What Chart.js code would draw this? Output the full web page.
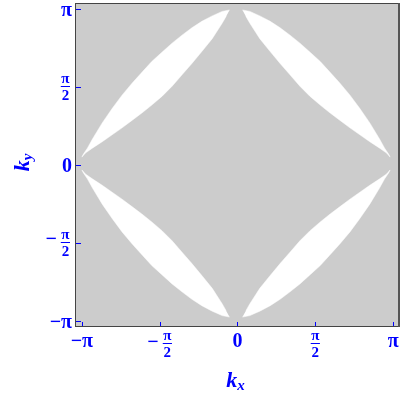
<!DOCTYPE html>
<html>
<head>
<meta charset="utf-8">
<script src="https://cdn.jsdelivr.net/npm/chart.js@4"></script>
<style>
  html, body { margin: 0; padding: 0; background: #ffffff; }
  #wrap { width: 409px; height: 401px; }
</style>
</head>
<body>
<div id="wrap"><canvas id="c" width="409" height="401"></canvas></div>
<script>
// ---- data (k in radians) ----
// lens outlines: outer edge from tip to tip, then inner edge back
const xRight  = [0.10,0.25,0.45,0.66,0.86,1.06,1.26,1.46,1.67,1.86,2.06,2.27,2.47,2.67,2.87,2.97,3.05,3.08,
                 3.01,2.87,2.67,2.47,2.27,2.07,1.87,1.67,1.46,1.26,1.06,0.86,0.66,0.45,0.25,0.17];
const xLeft   = [-0.16,-0.31,-0.51,-0.72,-0.92,-1.12,-1.32,-1.52,-1.73,-1.92,-2.12,-2.33,-2.53,-2.73,-2.93,-3.03,-3.11,-3.14,
                 -3.07,-2.93,-2.73,-2.53,-2.33,-2.13,-1.93,-1.73,-1.52,-1.32,-1.12,-0.92,-0.72,-0.51,-0.31,-0.23];
const yTop    = [3.13,3.10,3.01,2.90,2.77,2.62,2.46,2.28,2.09,1.88,1.66,1.41,1.14,0.85,0.52,0.34,0.22,0.16,
                 0.24,0.34,0.47,0.61,0.75,0.90,1.05,1.21,1.39,1.59,1.82,2.05,2.29,2.55,2.86,3.00];
const yBottom = [-3.07,-3.04,-2.95,-2.84,-2.71,-2.56,-2.40,-2.22,-2.03,-1.82,-1.60,-1.35,-1.08,-0.79,-0.46,-0.28,-0.16,-0.10,
                 -0.18,-0.28,-0.41,-0.55,-0.69,-0.84,-0.99,-1.15,-1.33,-1.53,-1.76,-1.99,-2.23,-2.49,-2.80,-2.94];

const tickValues = [-Math.PI, -Math.PI/2, 0, Math.PI/2, Math.PI];
const tickLabels = ['−π', '−π/2', '0', 'π/2', 'π'];
const xTitle = ['k', 'x'];
const yTitle = ['k', 'y'];

const BLUE = '#0000ff';
const GRAY = '#cccccc';
const SERIF = '"Liberation Serif", "Times New Roman", serif';

function pts(xs, ys) { return xs.map((x, i) => ({ x: x, y: ys[i] })); }
function lens(xs, ys) {
  return { data: pts(xs, ys), fill: 'shape', backgroundColor: '#ffffff',
           borderColor: '#ffffff', borderWidth: 0.5, pointRadius: 0, tension: 0 };
}

const bgPlugin = {
  id: 'bg',
  beforeDatasetsDraw(chart) {
    const { ctx, chartArea: a } = chart;
    ctx.save();
    ctx.fillStyle = GRAY;
    ctx.fillRect(a.left, a.top, a.right - a.left, a.bottom - a.top);
    ctx.restore();
  }
};

function drawLabel(ctx, s, axis, px, py) {
  const neg = s.startsWith('−');
  const body = neg ? s.slice(1) : s;
  const big = 'bold 20px ' + SERIF;
  const small = 'bold 15px ' + SERIF;
  ctx.fillStyle = BLUE;
  ctx.strokeStyle = BLUE;
  if (body.indexOf('/') < 0) {
    ctx.font = big;
    ctx.textBaseline = 'alphabetic';
    if (axis === 'x') { ctx.textAlign = 'center'; ctx.fillText(s, px, 347); }
    else { ctx.textAlign = 'right'; ctx.fillText(s, 72, py + 7); }
    return;
  }
  const [num, den] = body.split('/');
  ctx.font = small;
  const fw = Math.max(ctx.measureText(num).width, ctx.measureText(den).width) + 1;
  ctx.font = big;
  const mw = neg ? ctx.measureText('−').width : 0;
  const gap = neg ? 4 : 0;
  let fx, c, minusBase;
  if (axis === 'x') {
    const total = mw + gap + fw;
    const start = px - total / 2;
    fx = start + mw + gap + fw / 2;
    c = 344; minusBase = 348;
  } else {
    fx = 70 - fw / 2;
    c = py; minusBase = py + 2;
  }
  if (neg) {
    ctx.font = big; ctx.textAlign = 'right'; ctx.textBaseline = 'alphabetic';
    ctx.fillText('−', fx - fw / 2 - gap, minusBase);
  }
  ctx.font = small; ctx.textAlign = 'center'; ctx.textBaseline = 'alphabetic';
  ctx.fillText(num, fx, c - 4);
  ctx.fillText(den, fx, c + 13);
  ctx.lineWidth = 1;
  ctx.beginPath();
  ctx.moveTo(fx - fw / 2, Math.round(c - 1) + 0.5);
  ctx.lineTo(fx + fw / 2, Math.round(c - 1) + 0.5);
  ctx.stroke();
}

function drawTitle(ctx, parts) {
  const f1 = 'bold italic 22px ' + SERIF;
  const f2 = 'bold italic 15px ' + SERIF;
  ctx.font = f1; const w1 = ctx.measureText(parts[0]).width;
  ctx.font = f2; const w2 = ctx.measureText(parts[1]).width;
  const start = -(w1 + w2) / 2;
  ctx.textAlign = 'left'; ctx.textBaseline = 'alphabetic';
  ctx.fillStyle = BLUE;
  ctx.font = f1; ctx.fillText(parts[0], start, 0);
  ctx.font = f2; ctx.fillText(parts[1], start + w1, 3);
}

const framePlugin = {
  id: 'frame',
  afterDraw(chart) {
    const { ctx, chartArea: a, scales } = chart;
    ctx.save();
    // frame
    ctx.strokeStyle = '#444444';
    ctx.lineWidth = 1;
    ctx.beginPath();
    ctx.moveTo(a.left + 0.5, a.top + 0.5); ctx.lineTo(a.right, a.top + 0.5);
    ctx.moveTo(a.left + 0.5, a.top); ctx.lineTo(a.left + 0.5, a.bottom);
    ctx.moveTo(a.left, a.bottom - 0.5); ctx.lineTo(a.right, a.bottom - 0.5);
    ctx.stroke();
    ctx.strokeStyle = '#555555';
    ctx.lineWidth = 2;
    ctx.beginPath();
    ctx.moveTo(a.right, a.top); ctx.lineTo(a.right, a.bottom);
    ctx.stroke();
    // ticks (inward)
    ctx.strokeStyle = BLUE;
    ctx.lineWidth = 1;
    ctx.beginPath();
    tickValues.forEach(v => {
      const y = Math.round(scales.y.getPixelForValue(v)) + 0.5;
      ctx.moveTo(a.left + 1, y); ctx.lineTo(a.left + 6, y);
      const x = Math.round(scales.x.getPixelForValue(v)) + 0.5;
      ctx.moveTo(x, a.bottom - 1); ctx.lineTo(x, a.bottom - 5);
    });
    ctx.stroke();
    // tick labels
    tickValues.forEach((v, i) => {
      drawLabel(ctx, tickLabels[i], 'x', scales.x.getPixelForValue(v), 0);
      drawLabel(ctx, tickLabels[i], 'y', 0, scales.y.getPixelForValue(v));
    });
    // axis titles
    ctx.save();
    ctx.translate((a.left + a.right) / 2 - 1.5, 387);
    drawTitle(ctx, xTitle);
    ctx.restore();
    ctx.save();
    ctx.translate(28.5, (a.top + a.bottom) / 2 - 2.5);
    ctx.rotate(-Math.PI / 2);
    drawTitle(ctx, yTitle);
    ctx.restore();
    ctx.restore();
  }
};

new Chart(document.getElementById('c'), {
  type: 'line',
  data: {
    datasets: [
      lens(xRight, yTop),
      lens(xLeft, yTop),
      lens(xRight, yBottom),
      lens(xLeft, yBottom)
    ]
  },
  options: {
    responsive: false,
    devicePixelRatio: 1,
    animation: false,
    layout: { padding: { top: 3, right: 10, left: 0, bottom: 0 } },
    plugins: { legend: { display: false }, tooltip: { enabled: false } },
    scales: {
      x: {
        type: 'linear', min: -3.28, max: 3.26,
        ticks: { display: false }, grid: { display: false }, border: { display: false },
        afterFit(s) { s.height = 74; }
      },
      y: {
        type: 'linear', min: -3.27, max: 3.27,
        ticks: { display: false }, grid: { display: false }, border: { display: false },
        afterFit(s) { s.width = 75; }
      }
    }
  },
  plugins: [bgPlugin, framePlugin]
});
</script>
</body>
</html>
